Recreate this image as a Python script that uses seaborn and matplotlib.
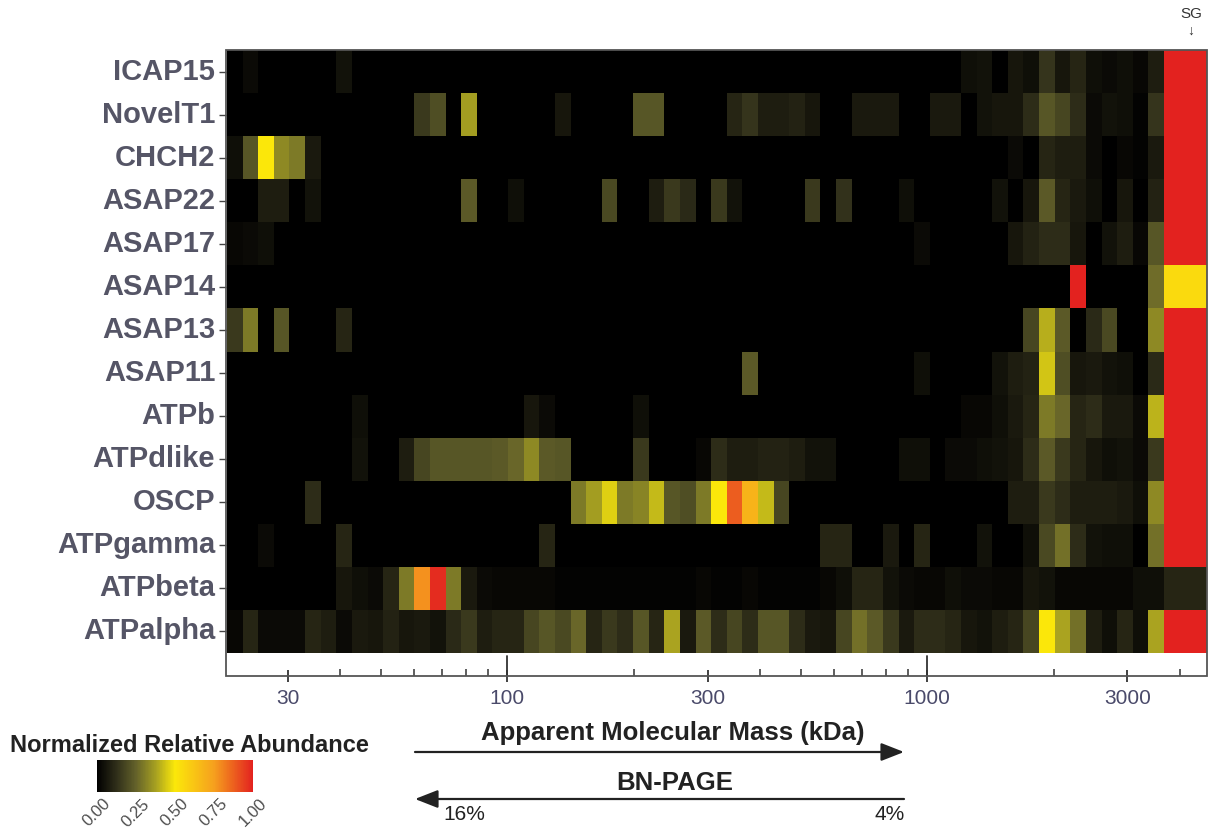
import numpy as np
import pandas as pd
import matplotlib
matplotlib.use("Agg")
import matplotlib.pyplot as plt
import seaborn as sns
from matplotlib.colors import LinearSegmentedColormap
from matplotlib.patches import Rectangle, FancyArrowPatch, ArrowStyle
from matplotlib.ticker import FixedLocator, NullFormatter

# rows top to bottom, 60 gel slices each + the stacking gel (SG)
proteins = ["ICAP15", "NovelT1", "CHCH2", "ASAP22", "ASAP17", "ASAP14", "ASAP13",
            "ASAP11", "ATPb", "ATPdlike", "OSCP", "ATPgamma", "ATPbeta", "ATPalpha"]

icap15 = [0, .03, 0, 0, 0, 0, 0, .05, 0, 0,
          0, 0, 0, 0, 0, 0, 0, 0, 0, 0,
          0, 0, 0, 0, 0, 0, 0, 0, 0, 0,
          0, 0, 0, 0, 0, 0, 0, 0, 0, 0,
          0, 0, 0, 0, 0, 0, 0, .04, .05, 0,
          .06, .04, .14, .06, .10, .04, .03, .04, .02, .08]
novelt1 = [0, 0, 0, 0, 0, 0, 0, 0, 0, 0,
           0, 0, .15, .20, 0, .37, 0, 0, 0, 0,
           0, .06, 0, 0, 0, 0, .22, .22, 0, 0,
           0, 0, .10, .14, .08, .08, .09, .06, 0, 0,
           .07, .07, .07, 0, 0, .07, .07, 0, .05, .06,
           .06, .12, .22, .18, .12, .03, .05, .04, .01, .14]
chch2 = [.04, .22, .50, .33, .30, .07, 0, 0, 0, 0,
         0, 0, 0, 0, 0, 0, 0, 0, 0, 0,
         0, 0, 0, 0, 0, 0, 0, 0, 0, 0,
         0, 0, 0, 0, 0, 0, 0, 0, 0, 0,
         0, 0, 0, 0, 0, 0, 0, 0, 0, 0,
         .03, 0, .10, .08, .08, .03, 0, .02, .01, .07]
asap22 = [0, 0, .08, .08, 0, .05, 0, 0, 0, 0,
          0, 0, 0, 0, 0, .23, 0, 0, .04, 0,
          0, 0, 0, 0, .19, 0, 0, .08, .15, .11,
          0, .15, .05, 0, 0, 0, 0, .15, 0, .13,
          0, 0, 0, .04, 0, 0, 0, 0, 0, .05,
          0, .06, .23, .10, .07, .04, 0, .06, 0, .09]
asap17 = [.02, .03, .04, 0, 0, 0, 0, 0, 0, 0,
          0, 0, 0, 0, 0, 0, 0, 0, 0, 0,
          0, 0, 0, 0, 0, 0, 0, 0, 0, 0,
          0, 0, 0, 0, 0, 0, 0, 0, 0, 0,
          0, 0, 0, 0, .03, 0, 0, 0, 0, 0,
          .06, .09, .12, .12, .06, 0, .05, .08, .02, .22]
asap14 = [0, 0, 0, 0, 0, 0, 0, 0, 0, 0,
          0, 0, 0, 0, 0, 0, 0, 0, 0, 0,
          0, 0, 0, 0, 0, 0, 0, 0, 0, 0,
          0, 0, 0, 0, 0, 0, 0, 0, 0, 0,
          0, 0, 0, 0, 0, 0, 0, 0, 0, 0,
          0, 0, 0, 0, 1.0, 0, 0, 0, 0, .27]
asap13 = [.15, .30, 0, .22, 0, 0, 0, .10, 0, 0,
          0, 0, 0, 0, 0, 0, 0, 0, 0, 0,
          0, 0, 0, 0, 0, 0, 0, 0, 0, 0,
          0, 0, 0, 0, 0, 0, 0, 0, 0, 0,
          0, 0, 0, 0, 0, 0, 0, 0, 0, 0,
          0, .18, .40, .23, 0, .11, .19, 0, 0, .33]
asap11 = [0, 0, 0, 0, 0, 0, 0, 0, 0, 0,
          0, 0, 0, 0, 0, 0, 0, 0, 0, 0,
          0, 0, 0, 0, 0, 0, 0, 0, 0, 0,
          0, 0, 0, .23, 0, 0, 0, 0, 0, 0,
          0, 0, 0, 0, .04, 0, 0, 0, 0, .05,
          .08, .09, .44, .20, .06, .07, .05, .04, 0, .11]
atpb = [0, 0, 0, 0, 0, 0, 0, 0, .04, 0,
        0, 0, 0, 0, 0, 0, 0, 0, 0, .06,
        .03, 0, 0, 0, 0, 0, .04, 0, 0, 0,
        0, 0, 0, 0, 0, 0, 0, 0, 0, 0,
        0, 0, 0, 0, 0, 0, 0, .02, .02, .04,
        .07, .10, .30, .26, .10, .12, .07, .07, .03, .41]
atpdlike = [0, 0, 0, 0, 0, 0, 0, 0, .05, 0,
            0, .08, .18, .22, .22, .22, .22, .23, .26, .33,
            .23, .22, 0, 0, 0, 0, .15, 0, 0, 0,
            .02, .12, .08, .08, .09, .09, .08, .05, .05, 0,
            0, 0, 0, .04, .04, 0, .03, .03, .04, .05,
            .06, .12, .23, .15, .10, .06, .04, .05, .03, .15]
oscp = [0, 0, 0, 0, 0, .12, 0, 0, 0, 0,
        0, 0, 0, 0, 0, 0, 0, 0, 0, 0,
        0, 0, .30, .37, .46, .30, .32, .42, .22, .20,
        .30, .50, .88, .68, .42, .18, 0, 0, 0, 0,
        0, 0, 0, 0, 0, 0, 0, 0, 0, 0,
        .08, .08, .15, .12, .08, .08, .08, .07, .04, .33]
atpgamma = [0, 0, .03, 0, 0, 0, 0, .10, 0, 0,
            0, 0, 0, 0, 0, 0, 0, 0, 0, 0,
            .10, 0, 0, 0, 0, 0, 0, 0, 0, 0,
            0, 0, 0, 0, 0, 0, 0, 0, .10, .10,
            0, 0, .07, 0, .10, 0, 0, 0, .05, 0,
            0, .04, .19, .28, .12, .05, .04, .04, 0, .28]
atpbeta = [0, 0, 0, 0, 0, 0, 0, .06, .04, .03,
           .10, .30, .78, .98, .30, .07, .03, .02, .02, .02,
           .02, .01, .01, .01, .01, .01, .01, .01, .01, .01,
           .02, .01, .01, .02, .01, .01, .01, .01, .02, .04,
           .10, .10, .05, .03, .02, .02, .04, .03, .03, .02,
           .02, .06, .05, .02, .02, .02, .02, .02, .04, .04]
atpalpha = [.02, .10, .03, .03, .03, .10, .08, .03, .07, .06,
            .09, .06, .07, .05, .11, .15, .08, .10, .10, .18,
            .22, .19, .26, .10, .15, .12, .22, .10, .38, .07,
            .23, .12, .18, .12, .22, .22, .12, .07, .06, .18,
            .28, .23, .15, .07, .12, .12, .10, .06, .05, .08,
            .10, .18, .50, .38, .28, .08, .04, .10, .04, .38]
sg_values = [1.0, 1.0, 1.0, 1.0, 1.0, .55, 1.0, 1.0, 1.0, 1.0, 1.0, 1.0, .10, 1.0]

mass_major = [30, 100, 300, 1000, 3000]
mass_decades = [100, 1000]
mass_minor = [40, 50, 60, 70, 80, 90, 200, 400, 500, 600, 700, 800, 900, 2000, 4000]
mass_limits = (21.4, 4640)
cbar_ticks = [0, 0.25, 0.5, 0.75, 1.0]

sns.set_theme(style="white")
plt.rcParams["font.family"] = ["Liberation Sans", "DejaVu Sans"]

W, H = 1211, 830
fig = plt.figure(figsize=(W / 100, H / 100), dpi=100)


def box(x0, y0, x1, y1):
    # pixel box (top-left origin) -> figure fraction rect
    return [x0 / W, 1 - y1 / H, (x1 - x0) / W, (y1 - y0) / H]


cmap = LinearSegmentedColormap.from_list(
    "abund", [(0.0, "#000000"), (0.125, "#302f1a"), (0.25, "#64622a"),
              (0.375, "#a6a021"), (0.5, "#fbe80a"), (0.75, "#f6a01e"),
              (1.0, "#e3221f")])

df = pd.DataFrame([icap15, novelt1, chch2, asap22, asap17, asap14, asap13, asap11,
                   atpb, atpdlike, oscp, atpgamma, atpbeta, atpalpha], index=proteins)

ax_hm = fig.add_axes(box(227, 50, 1164, 653))
ax_sg = fig.add_axes(box(1164, 50, 1207, 653))
ax_x = fig.add_axes(box(226, 653, 1207, 676))
cax = fig.add_axes(box(97, 760, 253, 792))

sns.heatmap(df, ax=ax_hm, cmap=cmap, vmin=0, vmax=1, cbar=True, cbar_ax=cax,
            cbar_kws={"orientation": "horizontal", "ticks": cbar_ticks},
            xticklabels=False, yticklabels=proteins, linewidths=0)
sns.heatmap(pd.DataFrame({"SG": sg_values}), ax=ax_sg, cmap=cmap, vmin=0, vmax=1,
            cbar=False, xticklabels=False, yticklabels=False, linewidths=0)

ax_hm.set_ylabel("")
ax_hm.tick_params(axis="y", left=True, length=5.5, width=1, color="#444444",
                  labelsize=21, labelcolor="#555566", pad=3)
for lab in ax_hm.get_yticklabels():
    lab.set_rotation(0)
    lab.set_fontweight("bold")

# log mass axis under the heatmap
ax_x.set_xscale("log")
ax_x.set_xlim(*mass_limits)
ax_x.set_ylim(0, 1)
ax_x.set_facecolor("white")
ax_x.yaxis.set_visible(False)
for s in ax_x.spines.values():
    s.set_visible(False)
ax_x.xaxis.set_major_locator(FixedLocator(mass_major))
ax_x.xaxis.set_minor_locator(FixedLocator(mass_minor))
ax_x.xaxis.set_minor_formatter(NullFormatter())
ax_x.set_xticklabels([str(m) for m in mass_major])
ax_x.tick_params(axis="x", which="major", bottom=True, direction="inout", length=9,
                 width=1.3, color="#333333", labelsize=15, labelcolor="#4a4a6a", pad=5)
ax_x.tick_params(axis="x", which="minor", bottom=True, direction="in", length=5,
                 width=1.1, color="#333333")
for m in mass_decades:
    ax_x.axvline(m, ymin=0, ymax=0.87, color="#333333", lw=1.3)

# frame around the whole panel
fig.add_artist(Rectangle((226 / W, 1 - 676 / H), 981 / W, 626 / H,
                         transform=fig.transFigure, fill=False,
                         edgecolor="#555555", lw=1.3))

# colour bar
cbar = ax_hm.collections[0].colorbar
cbar.outline.set_visible(False)
cax.tick_params(axis="x", direction="in", length=5, width=1.2, color="white",
                top=True, bottom=True, labelsize=12, labelcolor="#4d4d4d", pad=3)
cax.set_xticklabels([f"{t:.2f}" for t in cbar_ticks], rotation=45, ha="center")
fig.text(10 / W, 1 - 745 / H, "Normalized Relative Abundance", fontsize=17,
         fontweight="bold", color="#222222", va="center", ha="left")

# axis titles and arrows
fig.text(673 / W, 1 - 733 / H, "Apparent Molecular Mass (kDa)", fontsize=18.5,
         fontweight="bold", color="#222222", ha="center", va="center")
fig.text(675 / W, 1 - 783 / H, "BN-PAGE", fontsize=18.5, fontweight="bold",
         color="#222222", ha="center", va="center")
style = ArrowStyle("-|>", head_length=14, head_width=5.5)
fig.add_artist(FancyArrowPatch((415 / W, 1 - 752 / H), (904 / W, 1 - 752 / H),
                               transform=fig.transFigure, arrowstyle=style,
                               mutation_scale=1, lw=1.6, color="#222222",
                               shrinkA=0, shrinkB=0))
fig.add_artist(FancyArrowPatch((904 / W, 1 - 799 / H), (415 / W, 1 - 799 / H),
                               transform=fig.transFigure, arrowstyle=style,
                               mutation_scale=1, lw=1.6, color="#222222",
                               shrinkA=0, shrinkB=0))
fig.text(464 / W, 1 - 814 / H, "16%", fontsize=15, color="#222222",
         ha="center", va="center")
fig.text(890 / W, 1 - 814 / H, "4%", fontsize=15, color="#222222",
         ha="center", va="center")

# stacking gel marker
fig.text(1191 / W, 1 - 14 / H, "SG", fontsize=11, color="#333333",
         ha="center", va="center")
fig.text(1191 / W, 1 - 31 / H, "↓", fontsize=10, color="#333333",
         ha="center", va="center", fontweight="bold")

fig.savefig("out.png", dpi=100)
